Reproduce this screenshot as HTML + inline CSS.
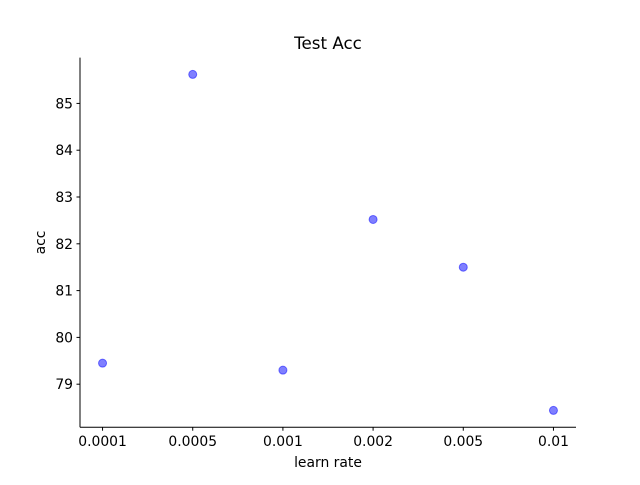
<!DOCTYPE html>
<html><head><meta charset="utf-8"><style>
body{margin:0;background:#fff}
svg text{font-family:"DejaVu Sans","Liberation Sans",sans-serif;fill:#000}
</style></head><body>
<svg id="chart" width="640" height="480" xmlns="http://www.w3.org/2000/svg">
<rect width="640" height="480" fill="#fff"/>
<text x="328" y="49" text-anchor="middle" font-size="16.7">Test Acc</text>
<text x="328" y="467" text-anchor="middle" font-size="13.9">learn rate</text>
<text transform="translate(45,242.5) rotate(-90)" text-anchor="middle" font-size="13.9">acc</text>
<g id="ticks"></g>
<g id="points"></g>
<line x1="80" y1="57.6" x2="80" y2="427.2" stroke="#000" stroke-width="1"/>
<line x1="80" y1="427.2" x2="576" y2="427.2" stroke="#000" stroke-width="1"/>
</svg>
<script>
const categories = ["0.0001","0.0005","0.001","0.002","0.005","0.01"];
const accValues = [79.45, 85.62, 79.3, 82.52, 81.5, 78.44];
const yTickLabels = [79, 80, 81, 82, 83, 84, 85];

const L=80,R=576,T=57.6,B=427.2;
const n=categories.length;
const xs=i=>L+(i+0.25)/(n-1+0.5)*(R-L);
const mn=Math.min(...accValues),mx=Math.max(...accValues),pad=(mx-mn)*0.05;
const y0=mn-pad,y1=mx+pad;
const ys=v=>B-(v-y0)/(y1-y0)*(B-T);
const NS="http://www.w3.org/2000/svg";
const tg=document.getElementById('ticks'),pg=document.getElementById('points');
function mk(tag,attrs,parent){const e=document.createElementNS(NS,tag);for(const k in attrs)e.setAttribute(k,attrs[k]);parent.appendChild(e);return e;}
categories.forEach((c,i)=>{
  const x=xs(i);
  const t=mk('line',{x1:x,x2:x,y1:B,y2:B+3.5,stroke:'#000'},tg);
  
  
  const tx=mk('text',{x:x,y:B+19,'text-anchor':'middle','font-size':'13.9'},tg);
  tx.textContent=c;
  
  
});
yTickLabels.forEach(v=>{
  const y=ys(v);
  const t=mk('line',{x1:L-3.5,x2:L,y1:y,y2:y,stroke:'#000'},tg);
  
  
  const tx=mk('text',{x:L-7,y:y+5,'text-anchor':'end','font-size':'13.9'},tg);
  tx.textContent=v;
  
  
});
accValues.forEach((v,i)=>{
  const c=mk('circle',{cx:xs(i),cy:ys(v),r:4,fill:'rgba(0,0,255,0.5)',stroke:'rgba(0,0,255,0.5)','stroke-width':1},pg);
  
  
});
</script>
</body></html>
